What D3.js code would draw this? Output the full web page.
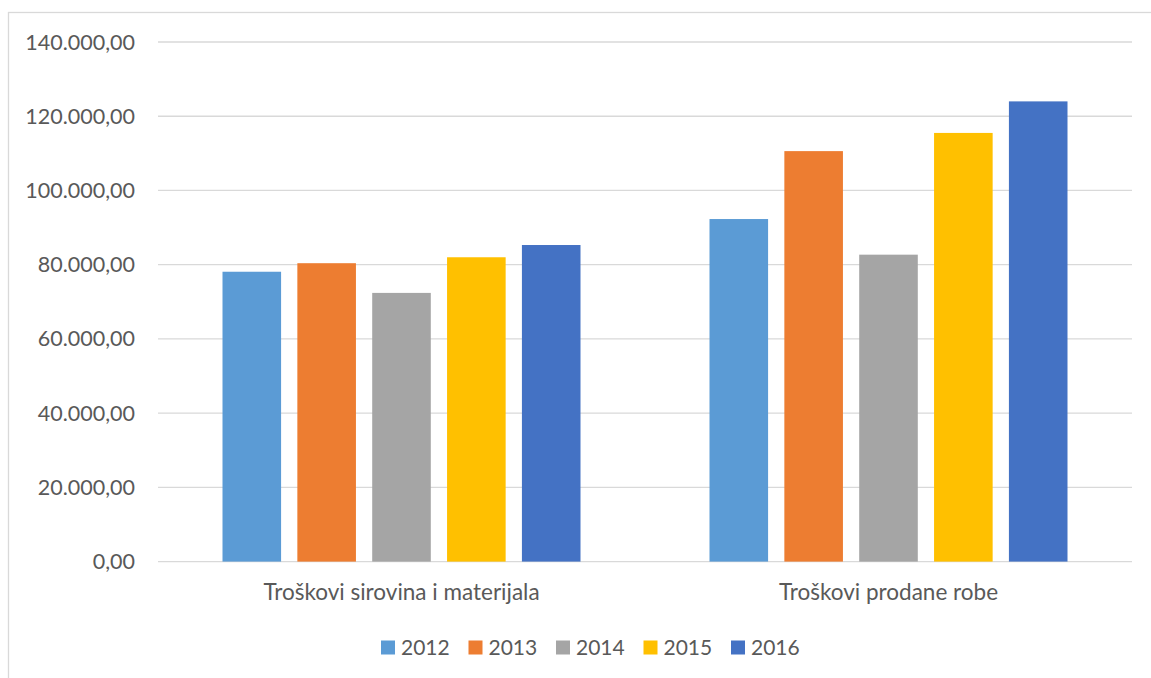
<!DOCTYPE html>
<html>
<head>
<meta charset="utf-8">
<script src="https://cdn.jsdelivr.net/npm/d3@7"></script>
<style>
html,body{margin:0;padding:0;background:#fff;}
svg{display:block;}
text{font-family:Lato,"Noto Sans",sans-serif;fill:#595959;}
</style>
</head>
<body>
<svg id="chart" width="1151" height="678"></svg>
<script>
const categories = ["Troškovi sirovina i materijala", "Troškovi prodane robe"];
const years = ["2012", "2013", "2014", "2015", "2016"];
const values2012 = [78100, 92300];
const values2013 = [80400, 110600];
const values2014 = [72400, 82700];
const values2015 = [82000, 115500];
const values2016 = [85300, 124000];
const yTicks = [0, 20000, 40000, 60000, 80000, 100000, 120000, 140000];
const colors = ["#5B9BD5", "#ED7D31", "#A5A5A5", "#FFC000", "#4472C4"];

const series = [values2012, values2013, values2014, values2015, values2016];

const svg = d3.select("#chart");
const W = 1151, H = 678;
const plot = {left: 158, right: 1132, top: 42, bottom: 561.6};

// chart border
svg.append("rect").attr("x", 8.5).attr("y", 12.5).attr("width", W + 20).attr("height", H + 20)
  .attr("fill", "none").attr("stroke", "#d9d9d9").attr("stroke-width", 1.3);

const y = d3.scaleLinear().domain([0, 140000]).range([plot.bottom, plot.top]);
const x0 = d3.scaleBand().domain(categories).range([plot.left, plot.right]).padding(0);
const groupW = 358;
const x1 = d3.scaleBand().domain(years)
  .range([(x0.bandwidth() - groupW) / 2, (x0.bandwidth() + groupW) / 2])
  .paddingInner(0.2173).paddingOuter(0);

const fmt = v => {
  const s = d3.format(",.2f")(v);
  return s.replace(/,/g, "#").replace(".", ",").replace(/#/g, ".");
};

// gridlines
svg.append("g").selectAll("line").data(yTicks).join("line")
  .attr("x1", plot.left).attr("x2", plot.right)
  .attr("y1", d => y(d)).attr("y2", d => y(d))
  .attr("stroke", "#d9d9d9").attr("stroke-width", 1.3);

// y labels
svg.append("g").selectAll("text").data(yTicks).join("text")
  .attr("x", 135).attr("y", d => y(d)).attr("dy", "0.35em")
  .attr("text-anchor", "end").attr("font-size", 21.5)
  .text(d => fmt(d));

// bars
const g = svg.append("g").selectAll("g").data(categories).join("g")
  .attr("transform", d => `translate(${x0(d)},0)`);
g.selectAll("rect").data((c, ci) => years.map((yr, si) => ({yr, si, v: series[si][ci]})))
  .join("rect")
  .attr("x", d => x1(d.yr)).attr("width", x1.bandwidth())
  .attr("y", d => y(d.v)).attr("height", d => y(0) - y(d.v))
  .attr("fill", d => colors[d.si]);

// category labels
svg.append("g").selectAll("text").data(categories).join("text")
  .attr("x", d => x0(d) + x0.bandwidth() / 2).attr("y", 600)
  .attr("text-anchor", "middle").attr("font-size", 22.5)
  .text(d => d);

// legend
const lg = svg.append("g").selectAll("g").data(years).join("g")
  .attr("transform", (d, i) => `translate(${381 + i * 87.5},640.5)`);
lg.append("rect").attr("width", 14).attr("height", 14).attr("fill", (d, i) => colors[i]);
lg.append("text").attr("x", 20).attr("y", 7).attr("dy", "0.35em").attr("font-size", 21).text(d => d);
</script>
</body>
</html>
